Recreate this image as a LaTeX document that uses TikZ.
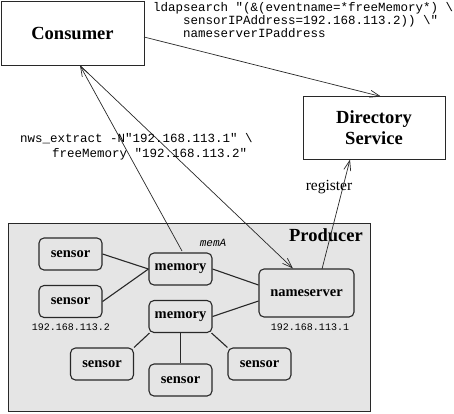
\documentclass[tikz,border=0pt]{standalone}
\usepackage{fontspec}
\setmainfont{Liberation Serif}
\setmonofont{Liberation Mono}
\usetikzlibrary{arrows.meta}
\definecolor{prodgray}{RGB}{229,229,229}
\definecolor{ink}{RGB}{40,40,40}
\tikzset{
  bigbox/.style={draw=ink, line width=1pt, inner sep=0pt, font=\bfseries\fontsize{18.5}{21}\selectfont, align=center},
  smallbox/.style={draw=ink, line width=1.1pt, rounded corners=5pt, inner sep=0pt, minimum width=63pt, minimum height=32pt, font=\bfseries\fontsize{14.5}{16}\selectfont},
  code/.style={inner sep=0pt, anchor=base west, font=\ttfamily\fontsize{12.5}{13}\selectfont},
  iplabel/.style={inner sep=0pt, anchor=base, font=\ttfamily\fontsize{10}{12}\selectfont},
  link/.style={draw=ink, line width=1.1pt},
  msg/.style={draw=ink, line width=0.7pt, -{Straight Barb[length=10pt,width=7pt]}},
}
\begin{document}
\begin{tikzpicture}[x=1pt,y=-1pt]
\useasboundingbox (0,0) rectangle (454,413);
% Producer area
\node[draw=ink, fill=prodgray, line width=1pt, minimum width=362pt, minimum height=188pt, inner sep=0pt] (prod) at (189,317) {};
\node[inner sep=0pt, anchor=base east, font=\bfseries\fontsize{18.5}{21}\selectfont] (prodlbl) at (363,241) {Producer};
% main boxes
\node[bigbox, minimum width=143pt, minimum height=64pt] (cons) at (72.5,33) {Consumer};
\node[bigbox, minimum width=142pt, minimum height=63pt] (dir) at (374,127.5) {Directory\\Service};
% producer components
\node[smallbox] (s1) at (70.5,254) {sensor};
\node[smallbox] (s2) at (70.5,301.5) {sensor};
\node[smallbox] (m1) at (180.5,269) {memory};
\node[smallbox] (m2) at (180.5,316.5) {memory};
\node[smallbox, minimum width=95pt, minimum height=48pt] (ns) at (306.5,293) {nameserver};
\node[smallbox] (s3) at (102,364) {sensor};
\node[smallbox] (s4) at (180.5,380) {sensor};
\node[smallbox] (s5) at (259.5,364) {sensor};
% labels
\node[inner sep=0pt, anchor=base, font=\ttfamily\itshape\fontsize{11}{12}\selectfont] (mema) at (213,246.5) {memA};
\node[iplabel] (ip2) at (71,330.5) {192.168.113.2};
\node[iplabel] (ip1) at (310,330.5) {192.168.113.1};
% links inside producer
\draw[link] (s1.east) -- (m1.west);
\draw[link] (s2.east) -- (m1.west);
\draw[link] (m1.east) -- (ns.west |- 0,285);
\draw[link] (m2.east) -- (ns.west |- 0,301);
\draw[link] (m2.south west) ++(1,0) coordinate (m2sw) -- (s3.north east);
\draw[link] (m2.south) -- (s4.north);
\draw[link] (m2.south east) ++(-1,0) coordinate (m2se) -- (s5.north west);
% message arrows
\coordinate (cin) at (80,65.5);
\coordinate (m1top) at (182,251);
\coordinate (nstop) at (293,268.5);
\coordinate (nsreg) at (322,269);
\coordinate (dirbot) at (350,159.5);
\coordinate (consout) at (144,37);
\coordinate (dirtop) at (381,96.5);
\draw[msg] (m1top) -- (cin);
\draw[msg] (cin) -- (nstop);
\draw[msg] (nsreg) -- (dirbot);
\draw[msg] (consout) -- (dirtop);
\node[inner sep=0pt, anchor=base, font=\fontsize{15.5}{17}\selectfont] (reg) at (329,190) {register};
% command texts
\node[code] (ld1) at (153,11) {ldapsearch "(\&(eventname=*freeMemory*) \textbackslash};
\node[code] (ld2) at (183,24) {sensorIPAddress=192.168.113.2)) \textbackslash"};
\node[code] (ld3) at (183,37) {nameserverIPaddress};
\node[code] (nw1) at (20,142) {nws\_extract -N"192.168.113.1" \textbackslash};
\node[code] (nw2) at (52,157) {freeMemory "192.168.113.2"};
\end{tikzpicture}
\end{document}
